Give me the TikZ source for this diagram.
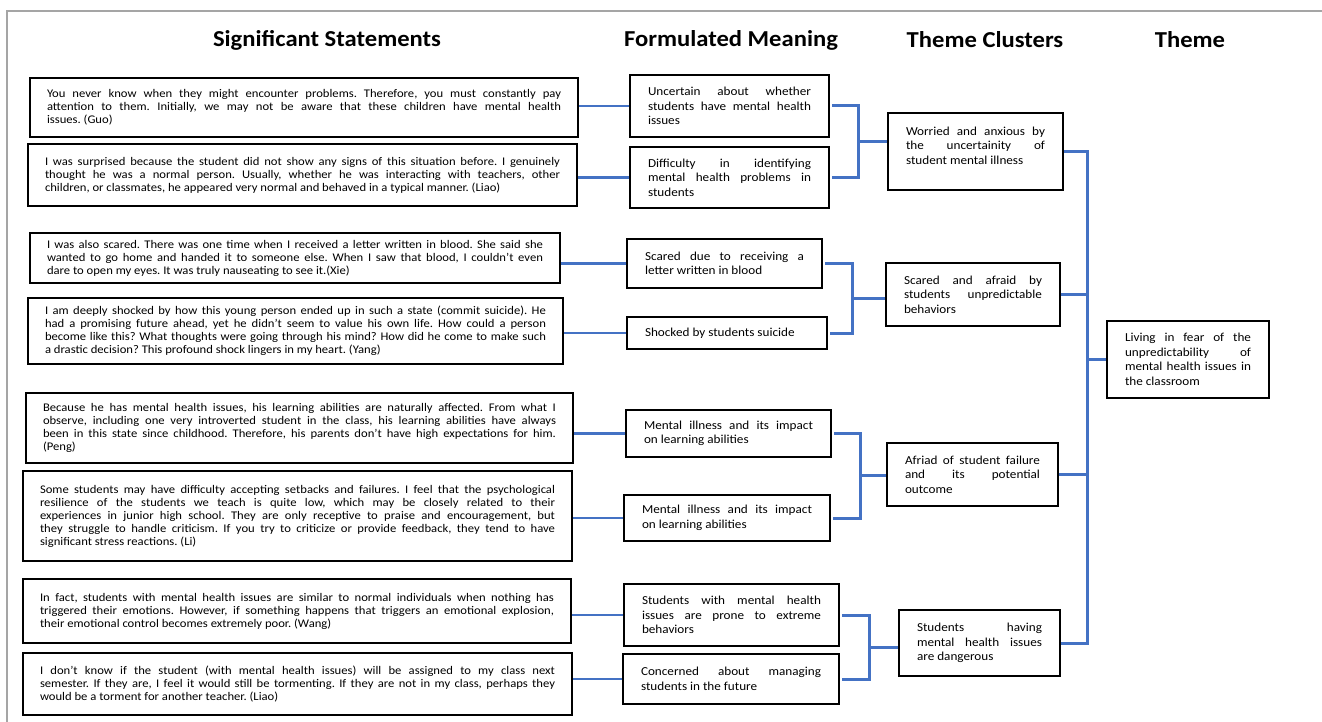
\documentclass[tikz,border=0pt]{standalone}
\usepackage{fontspec}
\setmainfont{Carlito}[FakeStretch=1.08]
\usetikzlibrary{calc}
\definecolor{linkblue}{RGB}{68,114,196}
\definecolor{framegray}{RGB}{165,165,165}
\frenchspacing
\newcommand\tb[2]{\vbox{\hsize=#1pt\relax #2}}
\newcommand\jl[1]{\hbox to\hsize{#1}}
\newcommand\lastl[1]{\hbox to\hsize{#1\hfil}}
\tikzset{
  sbox/.style={draw=black, line width=1.2pt, inner xsep=17pt, inner ysep=0pt, font=\fontsize{11.7}{13}\selectfont},
  fbox/.style={draw=black, line width=1.2pt, inner xsep=18pt, inner ysep=0pt, font=\fontsize{12.2}{14.5}\selectfont},
  conn/.style={draw=linkblue, line width=2.2pt},
  brk/.style={draw=linkblue, line width=3pt},
  hdr/.style={font=\fontsize{22.8}{26}\selectfont\bfseries, inner sep=0pt},
  frame/.style={draw=framegray, line width=1.2pt}
}
\begin{document}
\begin{tikzpicture}[x=1pt,y=-1pt]
\useasboundingbox (0,0) rectangle (1322,722);
\coordinate (fr1) at (1322,11);
\coordinate (fr2) at (7,11);
\coordinate (fr3) at (7,722);
\draw[frame] (fr1) -- (fr2) -- (fr3);

% headers
\node[hdr] (h1) at (327,40) {Significant Statements};
\node[hdr] (h2) at (731,40) {Formulated Meaning};
\node[hdr] (h3) at (985,40) {Theme Clusters};
\node[hdr] (h4) at (1190,40) {Theme};

% significant statements
\node[sbox, minimum width=548pt, minimum height=59pt] (s1) at (304,107.5) {\tb{514}{%
\jl{You never know when they might encounter problems. Therefore, you must constantly pay}%
\jl{attention to them. Initially, we may not be aware that these children have mental health}%
\lastl{issues. (Guo)}}};
\node[sbox, minimum width=549pt, minimum height=62pt] (s2) at (302.5,175) {\tb{515}{%
\jl{I was surprised because the student did not show any signs of this situation before. I genuinely}%
\jl{thought he was a normal person. Usually, whether he was interacting with teachers, other}%
\lastl{children, or classmates, he appeared very normal and behaved in a typical manner. (Liao)}}};
\node[sbox, minimum width=530pt, minimum height=50pt] (s3) at (295,258) {\tb{496}{%
\jl{I was also scared. There was one time when I received a letter written in blood. She said she}%
\jl{wanted to go home and handed it to someone else. When I saw that blood, I couldn't even}%
\lastl{dare to open my eyes. It was truly nauseating to see it.(Xie)}}};
\node[sbox, minimum width=535pt, minimum height=66pt] (s4) at (295.5,331) {\tb{501}{%
\jl{I am deeply shocked by how this young person ended up in such a state (commit suicide). He}%
\jl{had a promising future ahead, yet he didn't seem to value his own life. How could a person}%
\jl{become like this? What thoughts were going through his mind? How did he come to make such}%
\lastl{a drastic decision? This profound shock lingers in my heart. (Yang)}}};
\node[sbox, minimum width=547pt, minimum height=70pt] (s5) at (299.5,428) {\tb{513}{%
\jl{Because he has mental health issues, his learning abilities are naturally affected. From what I}%
\jl{observe, including one very introverted student in the class, his learning abilities have always}%
\jl{been in this state since childhood. Therefore, his parents don't have high expectations for him.}%
\lastl{(Peng)}}};
\node[sbox, minimum width=549pt, minimum height=90pt] (s6) at (297.5,516) {\tb{515}{%
\jl{Some students may have difficulty accepting setbacks and failures. I feel that the psychological}%
\jl{resilience of the students we teach is quite low, which may be closely related to their}%
\jl{experiences in junior high school. They are only receptive to praise and encouragement, but}%
\jl{they struggle to handle criticism. If you try to criticize or provide feedback, they tend to have}%
\lastl{significant stress reactions. (Li)}}};
\node[sbox, minimum width=548pt, minimum height=64pt] (s7) at (297,611) {\tb{514}{%
\jl{In fact, students with mental health issues are similar to normal individuals when nothing has}%
\jl{triggered their emotions. However, if something happens that triggers an emotional explosion,}%
\lastl{their emotional control becomes extremely poor. (Wang)}}};
\node[sbox, minimum width=549pt, minimum height=62pt] (s8) at (297.5,684) {\tb{515}{%
\jl{I don't know if the student (with mental health issues) will be assigned to my class next}%
\jl{semester. If they are, I feel it would still be tormenting. If they are not in my class, perhaps they}%
\lastl{would be a torment for another teacher. (Liao)}}};

% formulated meanings
\node[fbox, minimum width=199pt, minimum height=62pt] (f1) at (729.5,106) {\tb{163}{%
\jl{Uncertain about whether}\jl{students have mental health}\lastl{issues}}};
\node[fbox, minimum width=199pt, minimum height=61pt] (f2) at (729.5,177.5) {\tb{163}{%
\jl{Difficulty in identifying}\jl{mental health problems in}\lastl{students}}};
\node[fbox, minimum width=195pt, minimum height=49pt] (f3) at (724.5,263.5) {\tb{159}{%
\jl{Scared due to receiving a}\lastl{letter written in blood}}};
\node[fbox, minimum width=200pt, minimum height=32pt] (f4) at (727,333) {\tb{164}{%
\lastl{Shocked by students suicide}}};
\node[fbox, minimum width=205pt, minimum height=47pt] (f5) at (728.5,433.5) {\tb{169}{%
\jl{Mental illness and its impact}\lastl{on learning abilities}}};
\node[fbox, minimum width=206pt, minimum height=46pt] (f6) at (727,518) {\tb{170}{%
\jl{Mental illness and its impact}\lastl{on learning abilities}}};
\node[fbox, minimum width=215pt, minimum height=62pt] (f7) at (731.5,615) {\tb{179}{%
\jl{Students with mental health}\jl{issues are prone to extreme}\lastl{behaviors}}};
\node[fbox, minimum width=216pt, minimum height=50pt] (f8) at (731,679) {\tb{180}{%
\jl{Concerned about managing}\lastl{students in the future}}};

% theme clusters
\node[fbox, minimum width=175pt, minimum height=77pt] (c1) at (975.5,151.5) {\tb{139}{%
\jl{Worried and anxious by}\jl{the uncertainity of}\lastl{student mental illness}\vskip12pt}};
\node[fbox, minimum width=174pt, minimum height=63pt] (c2) at (973,294.5) {\tb{138}{%
\jl{Scared and afraid by}\jl{students unpredictable}\lastl{behaviors}}};
\node[fbox, minimum width=171pt, minimum height=63pt] (c3) at (972.5,474.5) {\tb{135}{%
\jl{Afriad of student failure}\jl{and its potential}\lastl{outcome}}};
\node[fbox, minimum width=161pt, minimum height=66pt] (c4) at (979.5,643) {\tb{125}{%
\jl{Students having}\jl{mental health issues}\lastl{are dangerous}}};

% theme
\node[fbox, minimum width=162pt, minimum height=77pt] (t) at (1188,359.5) {\tb{126}{%
\jl{Living in fear of the}\jl{unpredictability of}\jl{mental health issues in}\lastl{the classroom}}};

% statement -> meaning connectors
\foreach \i in {1,...,8} {
  \draw[conn] (f\i.west) -- (f\i.west -| s\i.east);
}

% brackets meaning -> cluster
\coordinate (b1) at (858,0);
\coordinate (b2) at (852,0);
\coordinate (b3) at (860,0);
\coordinate (b4) at (869,0);
\foreach \a/\b/\c/\k in {f1/f2/c1/b1, f3/f4/c2/b2, f5/f6/c3/b3, f7/f8/c4/b4} {
  \draw[brk] ([xshift=2.5pt]\a.east) -- (\a.east -| \k) -- (\b.east -| \k) -- ([xshift=2.5pt]\b.east);
  \coordinate (m\c) at ($(\a.east -| \k)!0.5!(\b.east -| \k)$);
  \draw[brk] ([xshift=-1pt]m\c) -- (m\c -| \c.west);
}

% trunk to theme
\coordinate (tr) at (1087,0);
\draw[brk] (c1.east) -- (c1.east -| tr) -- (c4.east -| tr) -- (c4.east);
\draw[brk] (c2.east) -- (c2.east -| tr);
\draw[brk] (c3.east) -- (c3.east -| tr);
\draw[brk] (t.west -| tr) -- (t.west);
\end{tikzpicture}
\end{document}
